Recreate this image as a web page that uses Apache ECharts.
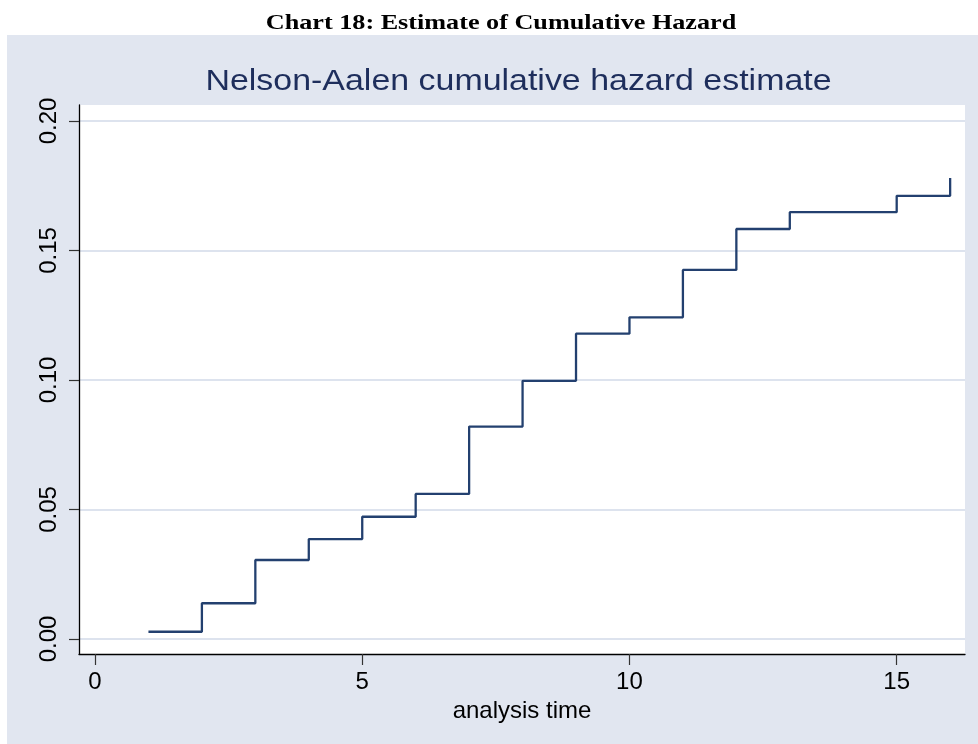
<!DOCTYPE html>
<html>
<head>
<meta charset="utf-8">
<script src="https://cdn.jsdelivr.net/npm/echarts@6/dist/echarts.min.js"></script>
<style>
html,body{margin:0;padding:0;background:#fff;}
#chart{width:978px;height:744px;}
</style>
</head>
<body>
<div id="chart"></div>
<script>
var pageTitle = 'Chart 18: Estimate of Cumulative Hazard';
var plotTitle = 'Nelson-Aalen cumulative hazard estimate';
var xAxisName = 'analysis time';
var times = [1, 2, 3, 4, 5, 6, 7, 8, 9, 10, 11, 12, 13, 15, 16];
var hazard = [0.0028, 0.0138, 0.0305, 0.0386, 0.0472, 0.0560, 0.0820, 0.0997, 0.1179, 0.1242, 0.1425, 0.1583, 0.1648, 0.1711, 0.1780];
var xTicks = [0, 5, 10, 15];
var yTicks = [0, 0.05, 0.10, 0.15, 0.20];

var seriesData = times.map(function (t, i) { return [t, hazard[i]]; });

var chart = echarts.init(document.getElementById('chart'), null, {renderer: 'canvas'});
chart.setOption({
  backgroundColor: '#e1e6f0',
  animation: false,
  graphic: [
    {type: 'rect', shape: {x: 0, y: 0, width: 978, height: 35}, style: {fill: '#ffffff'}, silent: true},
    {type: 'rect', shape: {x: 0, y: 0, width: 7, height: 744}, style: {fill: '#ffffff'}, silent: true},
    {type: 'text', x: 501, y: 23, scaleX: 1.19,
     style: {text: pageTitle, font: 'bold 22px "Liberation Serif", "Times New Roman", serif', fill: '#000', textAlign: 'center', textVerticalAlign: 'middle'}},
    {type: 'text', x: 518.5, y: 82, scaleX: 1.17,
     style: {text: plotTitle, font: '29px "Liberation Sans", Arial, sans-serif', fill: '#1e2e5c', textAlign: 'center', textVerticalAlign: 'middle'}}
  ],
  grid: {left: 79, right: 13, top: 105, bottom: 90, show: true, backgroundColor: '#ffffff', borderWidth: 0, containLabel: false},
  xAxis: {
    type: 'value', min: -0.2994, max: 16.278,
    name: xAxisName, nameLocation: 'middle', nameGap: 40,
    nameTextStyle: {fontFamily: '"Liberation Sans", Arial, sans-serif', fontSize: 24, color: '#000'},
    axisLine: {show: true, onZero: false, lineStyle: {color: '#000', width: 1.3}},
    axisTick: {show: true, length: 11, customValues: xTicks, lineStyle: {color: '#333', width: 1.2}},
    axisLabel: {customValues: xTicks, margin: 16, fontFamily: '"Liberation Sans", Arial, sans-serif', fontSize: 24, color: '#000',
      formatter: function (v) { return String(v); }},
    splitLine: {show: false}
  },
  yAxis: {
    type: 'value', min: -0.00579, max: 0.20618,
    axisLine: {show: true, onZero: false, lineStyle: {color: '#000', width: 1.3}},
    axisTick: {show: true, length: 10, customValues: yTicks, lineStyle: {color: '#333', width: 1.2}},
    axisLabel: {customValues: yTicks, rotate: 90, margin: 18, fontFamily: '"Liberation Sans", Arial, sans-serif', fontSize: 24, color: '#000',
      formatter: function (v) { return v.toFixed(2); }},
    splitLine: {show: true, lineStyle: {color: '#dde3ee', width: 2}}
  },
  series: [{
    type: 'line', step: 'end', data: seriesData, symbol: 'none',
    lineStyle: {color: '#23406f', width: 2.3}
  }]
});
</script>
</body>
</html>
